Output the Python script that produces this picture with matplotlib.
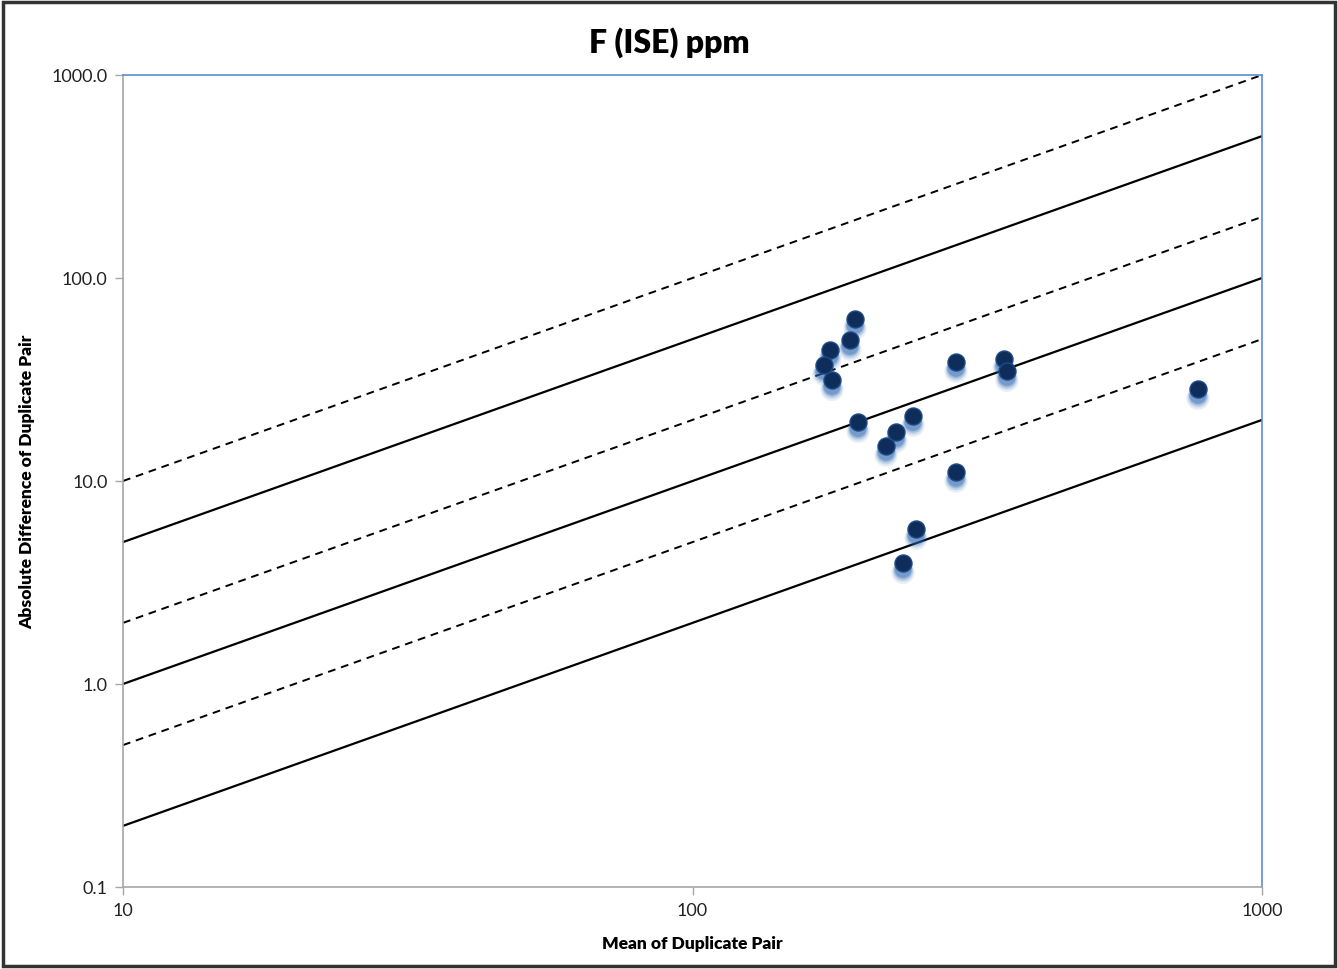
import matplotlib
matplotlib.use("Agg")
import matplotlib.pyplot as plt
from matplotlib.patches import Rectangle
from matplotlib.ticker import FixedLocator, FixedFormatter, NullLocator
import numpy as np

plt.rcParams['font.family'] = ['Lato', 'DejaVu Sans']

title = "F (ISE) ppm"
xlabel = "Mean of Duplicate Pair"
ylabel = "Absolute Difference of Duplicate Pair"

mean_vals = [192.9, 189.0, 174.3, 170.1, 175.8, 195.3, 218.7, 227.7, 243.9,
             290.2, 352.4, 356.6, 290.2, 246.9, 234.3, 772.0]
diff_vals = [62.8, 49.5, 44.2, 37.3, 31.4, 19.5, 14.9, 17.4, 20.9,
             38.6, 39.9, 34.8, 11.1, 5.8, 3.94, 28.4]

solid_ratios = [0.5, 0.1, 0.02]
dashed_ratios = [1.0, 0.2, 0.05]
line_x = [10, 1000]

xticks = [10, 100, 1000]
xticklabels = ["10", "100", "1000"]
yticks = [0.1, 1, 10, 100, 1000]
yticklabels = ["0.1", "1.0", "10.0", "100.0", "1000.0"]

fig = plt.figure(figsize=(13.38, 9.70), dpi=100)
ax = fig.add_axes([123/1338, 1-888/970, (1262-123)/1338, (888-76)/970])
ax.set_xscale('log')
ax.set_yscale('log')
ax.set_xlim(10, 1000)
ax.set_ylim(0.1, 1000)

for r in solid_ratios:
    ax.plot(line_x, [r * v for v in line_x], color='black', lw=1.6, solid_capstyle='butt', zorder=2)
for r in dashed_ratios:
    ax.plot(line_x, [r * v for v in line_x], color='black', lw=1.4, ls=(0, (4, 3)), zorder=2)

# glow/shadow beneath markers
for sz, a, f in [(280, 0.10, 0.90), (220, 0.16, 0.91), (180, 0.24, 0.92), (150, 0.35, 0.93)]:
    ax.scatter(mean_vals, [d * f for d in diff_vals], s=sz, color='#2462b0', alpha=a,
               edgecolors='none', zorder=3)
ax.scatter(mean_vals, diff_vals, s=150, color='#0f2d5a', edgecolors='#1d4a86', linewidths=1.0, zorder=4)

ax.xaxis.set_major_locator(FixedLocator(xticks))
ax.xaxis.set_major_formatter(FixedFormatter(xticklabels))
ax.xaxis.set_minor_locator(NullLocator())
ax.yaxis.set_major_locator(FixedLocator(yticks))
ax.yaxis.set_major_formatter(FixedFormatter(yticklabels))
ax.yaxis.set_minor_locator(NullLocator())
ax.tick_params(axis='both', direction='out', length=6, width=1, color='#a6a6a6',
               labelsize=13, labelcolor='#222222', pad=5)

for s in ['left', 'bottom']:
    ax.spines[s].set_color('#a6a6a6')
    ax.spines[s].set_linewidth(1.2)
for s in ['top', 'right']:
    ax.spines[s].set_color('#5b8fd1')
    ax.spines[s].set_linewidth(1.2)

ax.set_xlabel(xlabel, fontsize=12.5, fontweight='heavy', labelpad=12)
ax.set_ylabel(ylabel, fontsize=12.5, fontweight='heavy', labelpad=12)
fig.text(0.5, 1 - 43/970, title, ha='center', va='center', fontsize=23, fontweight='heavy')

fig.patches.append(Rectangle((3/1338, 3/970), 1 - 6/1338, 1 - 6/970, transform=fig.transFigure,
                             fill=False, edgecolor='#333333', linewidth=2.5))

fig.savefig("out.png", dpi=100)
